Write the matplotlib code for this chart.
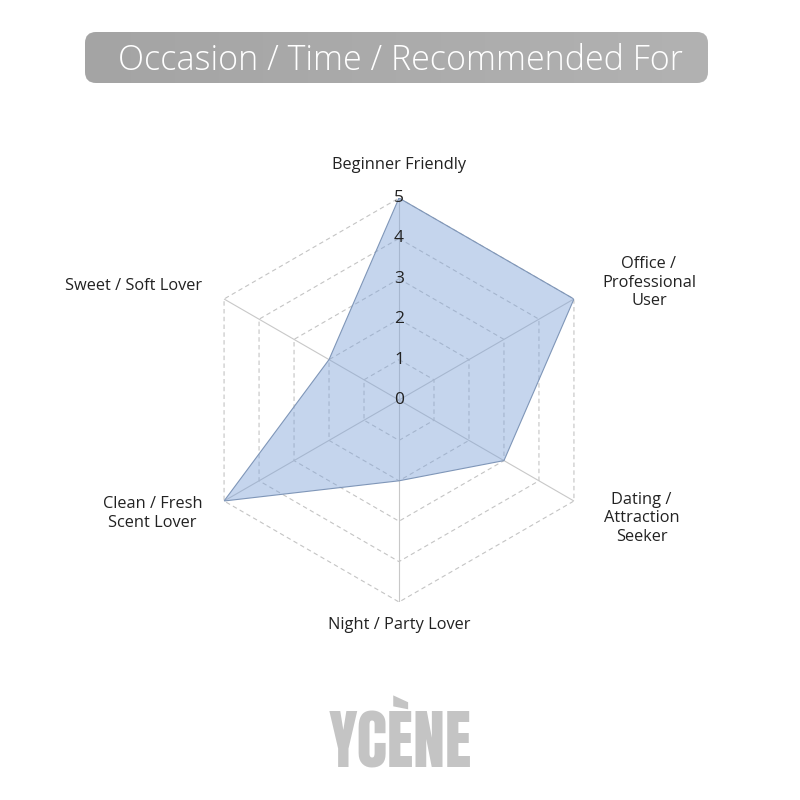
import numpy as np
import matplotlib.pyplot as plt
from matplotlib.patches import FancyBboxPatch
from matplotlib.colors import LinearSegmentedColormap

# Data
categories = ['Beginner Friendly', 'Office /\nProfessional\nUser', 'Dating /\nAttraction\nSeeker',
              'Night / Party Lover', 'Clean / Fresh\nScent Lover', 'Sweet / Soft Lover']
values = [5, 5, 3, 2, 5, 2]
ticks = [0, 1, 2, 3, 4, 5]
title = 'Occasion / Time / Recommended For'
brand = 'YCÈNE'

plt.rcParams['font.family'] = ['Open Sans', 'DejaVu Sans']

fig = plt.figure(figsize=(8, 8), dpi=100)
fig.patch.set_facecolor('white')

# radar axes: centre at (399, 400) px, radius 202 px
cx, cy, R = 399 / 800, 0.5, 202 / 800
ax = fig.add_axes([cx - R, cy - R, 2 * R, 2 * R], projection='polar')
ax.set_theta_offset(np.pi / 2)
ax.set_theta_direction(-1)
ax.set_ylim(0, 5)
ax.axis('off')

n = len(categories)
angles = np.linspace(0, 2 * np.pi, n, endpoint=False)
closed = np.append(angles, angles[0])

# grid rings (dashed) and spokes (solid)
for t in ticks[1:]:
    ax.plot(closed, [t] * (n + 1), color='#c4c4c4', lw=0.8, ls=(0, (4, 3)), zorder=1)
for a in angles:
    ax.plot([a, a], [0, 5], color='#c8c8c8', lw=0.8, zorder=1)

vals = np.append(values, values[0])
ax.fill(closed, vals, color='#7fa3d9', alpha=0.45, lw=0, zorder=2)
ax.plot(closed, vals, color='#7f96b8', lw=0.8, zorder=3)

# radial tick labels
for t in ticks:
    ax.text(0, t, str(t), ha='center', va='center', fontsize=12.5, color='#222222', zorder=4)

# category labels
for a, lab in zip(angles, categories):
    deg = np.degrees(a) % 360
    kw = dict(va='center', ma='center', fontsize=11.8, color='#222222')
    if deg < 1:
        ax.text(a, 5.82, lab, ha='center', **kw)
    elif abs(deg - 180) < 1:
        ax.text(a, 5.57, lab, ha='center', **kw)
    elif deg < 90:
        ax.text(a, 5.8, lab, ha='left', **kw)
    elif deg < 180:
        ax.text(a, 5.85, lab, ha='left', **kw)
    else:
        ax.text(a, 5.62, lab, ha='right', **kw)

# title box with grey gradient
tax = fig.add_axes([0, 0, 1, 1], zorder=-1)
tax.axis('off')
box = FancyBboxPatch((85, 32), 623, 51, boxstyle='round,pad=0,rounding_size=11',
                     facecolor='none', edgecolor='none')
tax.add_patch(box)
grad = np.linspace(0, 1, 256).reshape(1, -1)
im = tax.imshow(grad, extent=[85, 708, 83, 32], aspect='auto',
                cmap=LinearSegmentedColormap.from_list('g', ['#a4a4a4', '#b2b2b2']))
im.set_clip_path(box)
tax.set_xlim(0, 800)
tax.set_ylim(800, 0)
tax.text(400, 61, title, ha='center', va='center', fontsize=24.5, fontweight='light', color='white')

# brand mark
fig.text(400 / 800, 1 - 739 / 800, brand, ha='center', va='center', fontsize=46,
         color='#c4c4c4',
         family=['Anton', 'Oswald', 'Roboto Condensed', 'DejaVu Sans'])

fig.savefig('out.png', dpi=100)
